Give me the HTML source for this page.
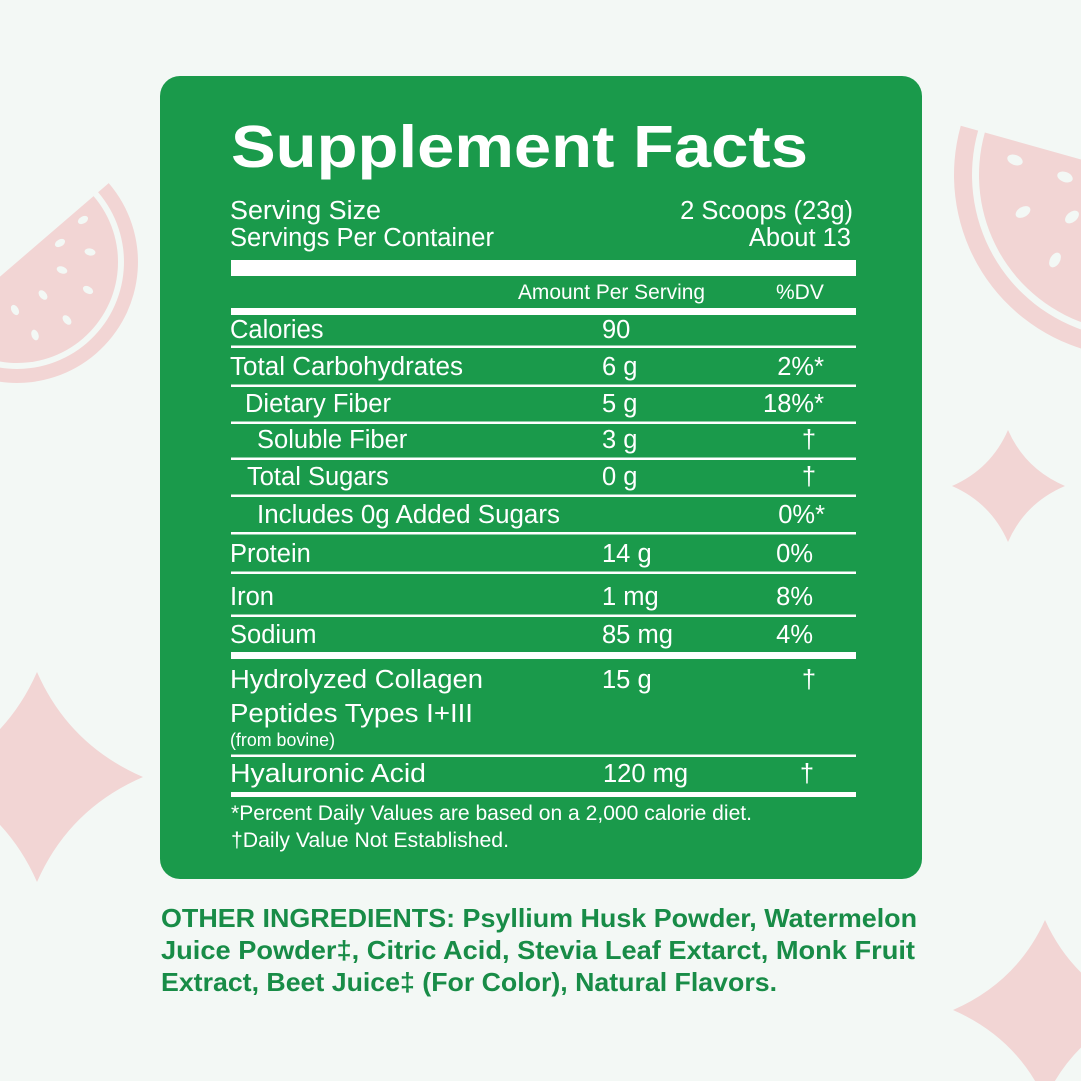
<!DOCTYPE html>
<html>
<head>
<meta charset="utf-8">
<style>
  html,body{margin:0;padding:0;background:#f3f8f5;}
  svg{display:block;}
  text{font-family:"Liberation Sans", Arial, sans-serif;}
</style>
</head>
<body>
<svg width="1081" height="1081" viewBox="0 0 1081 1081" xmlns="http://www.w3.org/2000/svg">
  <rect x="0" y="0" width="1081" height="1081" fill="#f3f8f5"/>

  <!-- Left watermelon -->
  <g transform="translate(17,262) rotate(-40.7)" fill="#f2d5d4">
    <path d="M -121 0 A 121 121 0 0 0 121 0 L 107 0 A 107 107 0 0 1 -107 0 Z"/>
    <path d="M -101 0 A 101 101 0 0 0 101 0 Z"/>
  </g>
  <g fill="#f3f8f5">
    <ellipse cx="83" cy="220" rx="5.5" ry="3.5" transform="rotate(-30 83 220)"/>
    <ellipse cx="60" cy="243" rx="5.5" ry="3.5" transform="rotate(-30 60 243)"/>
    <ellipse cx="90" cy="252" rx="5.5" ry="3.5" transform="rotate(10 90 252)"/>
    <ellipse cx="62" cy="270" rx="5.5" ry="3.5" transform="rotate(20 62 270)"/>
    <ellipse cx="88" cy="290" rx="5.5" ry="3.5" transform="rotate(30 88 290)"/>
    <ellipse cx="43" cy="295" rx="5.5" ry="3.5" transform="rotate(50 43 295)"/>
    <ellipse cx="15" cy="310" rx="5.5" ry="3.5" transform="rotate(60 15 310)"/>
    <ellipse cx="67" cy="320" rx="5.5" ry="3.5" transform="rotate(50 67 320)"/>
    <ellipse cx="35" cy="335" rx="5.5" ry="3.5" transform="rotate(70 35 335)"/>
  </g>

  <!-- Right watermelon -->
  <g transform="translate(1136,175) rotate(15.7)" fill="#f2d5d4">
    <path d="M -182 0 A 182 182 0 0 0 182 0 L 164 0 A 164 164 0 0 1 -164 0 Z"/>
    <path d="M -157 0 A 157 157 0 0 0 157 0 Z"/>
  </g>
  <g fill="#f3f8f5">
    <ellipse cx="1015" cy="160" rx="8" ry="5" transform="rotate(20 1015 160)"/>
    <ellipse cx="1065" cy="177" rx="8" ry="5" transform="rotate(20 1065 177)"/>
    <ellipse cx="1023" cy="212" rx="8" ry="5" transform="rotate(-30 1023 212)"/>
    <ellipse cx="1072" cy="217" rx="8" ry="5" transform="rotate(-40 1072 217)"/>
    <ellipse cx="1055" cy="260" rx="8" ry="5" transform="rotate(-60 1055 260)"/>
  </g>

  <!-- Sparkles -->
  <g fill="#f2d5d4">
    <path d="M 37 672 Q 69 745 143 777 Q 69 809 37 882 Q 5 809 -69 777 Q 5 745 37 672 Z"/>
    <path d="M 1008 430 Q 1025 469 1065 486 Q 1025 503 1008 542 Q 991 503 952 486 Q 991 469 1008 430 Z"/>
    <path d="M 1045 920 Q 1073 982 1137 1010 Q 1073 1038 1045 1100 Q 1017 1038 953 1010 Q 1017 982 1045 920 Z"/>
  </g>

  <!-- Green panel -->
  <rect x="160" y="76" width="762" height="803" rx="20" ry="20" fill="#1a9a4b"/>

  <g fill="#ffffff">
    <text x="231" y="167" font-size="59" font-weight="bold" textLength="577" lengthAdjust="spacingAndGlyphs">Supplement Facts</text>

    <text x="230" y="219" font-size="25.5" textLength="151" lengthAdjust="spacingAndGlyphs">Serving Size</text>
    <text x="853" y="219" font-size="25.5" text-anchor="end">2 Scoops (23g)</text>
    <text x="230" y="246" font-size="25.5" textLength="264" lengthAdjust="spacingAndGlyphs">Servings Per Container</text>
    <text x="851" y="246" font-size="25.5" text-anchor="end">About 13</text>

    <rect x="231" y="260" width="625" height="16"/>

    <text x="518" y="299" font-size="21" textLength="187" lengthAdjust="spacingAndGlyphs">Amount Per Serving</text>
    <text x="776" y="299" font-size="21">%DV</text>

    <rect x="231" y="308" width="625" height="7"/>

    <text x="230" y="338" font-size="25.5">Calories</text>
    <text x="602" y="338" font-size="25.5">90</text>
    <rect x="231" y="345.5" width="625" height="2.5"/>

    <text x="230" y="375" font-size="25.5" textLength="233" lengthAdjust="spacingAndGlyphs">Total Carbohydrates</text>
    <text x="602" y="375" font-size="25.5">6 g</text>
    <text x="824" y="375" font-size="25.5" text-anchor="end">2%*</text>
    <rect x="231" y="384.5" width="625" height="2.5"/>

    <text x="245" y="412" font-size="25.5">Dietary Fiber</text>
    <text x="602" y="412" font-size="25.5">5 g</text>
    <text x="824" y="412" font-size="25.5" text-anchor="end">18%*</text>
    <rect x="231" y="421.5" width="625" height="2.5"/>

    <text x="257" y="448" font-size="25.5">Soluble Fiber</text>
    <text x="602" y="448" font-size="25.5">3 g</text>
    <text x="809" y="448" font-size="25.5" text-anchor="middle">†</text>
    <rect x="231" y="457.5" width="625" height="2.5"/>

    <text x="247" y="485" font-size="25.5">Total Sugars</text>
    <text x="602" y="485" font-size="25.5">0 g</text>
    <text x="809" y="485" font-size="25.5" text-anchor="middle">†</text>
    <rect x="231" y="494.5" width="625" height="2.5"/>

    <text x="257" y="523" font-size="25.5" textLength="303" lengthAdjust="spacingAndGlyphs">Includes 0g Added Sugars</text>
    <text x="825" y="523" font-size="25.5" text-anchor="end">0%*</text>
    <rect x="231" y="532" width="625" height="2.5"/>

    <text x="230" y="562" font-size="25.5">Protein</text>
    <text x="602" y="562" font-size="25.5">14 g</text>
    <text x="813" y="562" font-size="25.5" text-anchor="end">0%</text>
    <rect x="231" y="571.5" width="625" height="2.5"/>

    <text x="230" y="605" font-size="25.5">Iron</text>
    <text x="602" y="605" font-size="25.5">1 mg</text>
    <text x="813" y="605" font-size="25.5" text-anchor="end">8%</text>
    <rect x="231" y="614.5" width="625" height="2.5"/>

    <text x="230" y="643" font-size="25.5">Sodium</text>
    <text x="602" y="643" font-size="25.5">85 mg</text>
    <text x="813" y="643" font-size="25.5" text-anchor="end">4%</text>

    <rect x="231" y="652" width="625" height="7"/>

    <text x="230" y="688" font-size="25.5" textLength="253" lengthAdjust="spacingAndGlyphs">Hydrolyzed Collagen</text>
    <text x="602" y="688" font-size="25.5">15 g</text>
    <text x="809" y="688" font-size="25.5" text-anchor="middle">†</text>
    <text x="230" y="722" font-size="25.5" textLength="243" lengthAdjust="spacingAndGlyphs">Peptides Types I+III</text>
    <text x="230" y="746" font-size="18" textLength="105" lengthAdjust="spacingAndGlyphs">(from bovine)</text>
    <rect x="231" y="754.5" width="625" height="2.5"/>

    <text x="230" y="782" font-size="25.5" textLength="196" lengthAdjust="spacingAndGlyphs">Hyaluronic Acid</text>
    <text x="603" y="782" font-size="25.5">120 mg</text>
    <text x="807" y="782" font-size="25.5" text-anchor="middle">†</text>

    <rect x="231" y="792" width="625" height="5"/>

    <text x="231" y="820" font-size="21" textLength="521" lengthAdjust="spacingAndGlyphs">*Percent Daily Values are based on a 2,000 calorie diet.</text>
    <text x="231" y="847" font-size="21" textLength="278" lengthAdjust="spacingAndGlyphs">†Daily Value Not Established.</text>
  </g>

  <!-- Other ingredients -->
  <g fill="#188c47" font-weight="bold" font-size="26">
    <text x="161" y="927" textLength="756" lengthAdjust="spacingAndGlyphs">OTHER INGREDIENTS: Psyllium Husk Powder, Watermelon</text>
    <text x="161" y="959" textLength="754" lengthAdjust="spacingAndGlyphs">Juice Powder‡, Citric Acid, Stevia Leaf Extarct, Monk Fruit</text>
    <text x="161" y="991" textLength="616" lengthAdjust="spacingAndGlyphs">Extract, Beet Juice‡ (For Color), Natural Flavors.</text>
  </g>
</svg>
</body>
</html>
